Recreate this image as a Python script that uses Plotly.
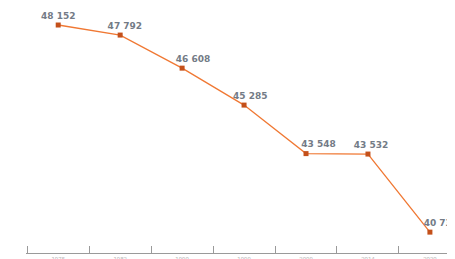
import plotly.graph_objects as go

years = ["1975", "1982", "1990", "1999", "2009", "2014", "2020"]
population = [48152, 47792, 46608, 45285, 43548, 43532, 40737]
labels = ["48 152", "47 792", "46 608", "45 285", "43 548", "43 532", "40 737"]

# horizontal nudges of the value labels (in non-breaking spaces)
label_pad = [0, 3, 7, 4, 8, 2, 7]
point_text = ["\u00a0" * p + t for p, t in zip(label_pad, labels)]

fig = go.Figure(go.Scatter(
    x=years, y=population,
    mode="lines+markers+text",
    line=dict(color="#f07833", width=1.3),
    marker=dict(symbol="square", size=5, color="#c4501a"),
    text=point_text, textposition="top center",
    textfont=dict(family="DejaVu Sans", size=9, color="#737b86", weight="bold"),
    cliponaxis=False,
    hoverinfo="skip",
))

fig.update_layout(
    width=447, height=251,
    margin=dict(l=18, r=0, t=0, b=6),
    paper_bgcolor="white", plot_bgcolor="white",
    showlegend=False,
    xaxis=dict(
        type="category", range=[-0.52, 6.405],
        tickson="boundaries", ticks="inside", ticklen=7,
        tickcolor="#9a9a9a", tickwidth=1,
        showline=True, linecolor="#9a9a9a", linewidth=1,
        showgrid=False, zeroline=False, automargin=False,
        tickfont=dict(family="Roboto", size=6, color="#b8b8b8"),
    ),
    yaxis=dict(
        range=[39990, 48761], visible=False,
        showgrid=False, zeroline=False, automargin=False,
    ),
)

fig.write_html("out.html")
